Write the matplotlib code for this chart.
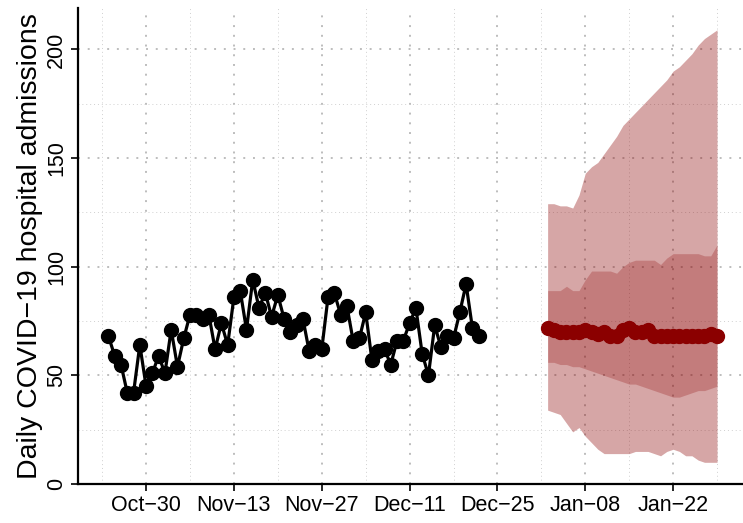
import matplotlib
matplotlib.use("Agg")
import matplotlib.pyplot as plt
import matplotlib.dates as mdates
import numpy as np
import pandas as pd

# observed daily admissions, Oct 24 - Dec 22
obs_dates = pd.date_range("2021-10-24", "2021-12-22", freq="D")
obs_vals = [68, 59, 55, 42, 42, 64, 45, 51, 59, 51,
            71, 54, 67, 78, 78, 76, 78, 62, 74, 64,
            86, 89, 71, 94, 81, 88, 77, 87, 76, 70,
            73, 76, 61, 64, 62, 86, 88, 78, 82, 66,
            67, 79, 57, 61, 62, 55, 66, 66, 74, 81,
            60, 50, 73, 63, 68, 67, 79, 92, 72, 68]

# forecast, Jan 02 - Jan 29
fc_dates = pd.date_range("2022-01-02", "2022-01-29", freq="D")
fc_median = [72, 71, 70, 70, 70, 70, 71, 70, 69, 70,
             68, 68, 71, 72, 70, 70, 71, 68, 68, 68,
             68, 68, 68, 68, 68, 68, 69, 68]
fc_lo50 = [56, 56, 55, 55, 54, 54, 53, 52, 51, 50,
           49, 48, 47, 46, 46, 45, 44, 43, 42, 41,
           40, 40, 41, 42, 43, 43, 44, 45]
fc_hi50 = [89, 89, 89, 91, 89, 89, 94, 98, 98, 98,
           98, 97, 100, 102, 103, 103, 103, 103, 101, 104,
           106, 106, 106, 106, 106, 105, 105, 110]
fc_lo90 = [34, 33, 32, 28, 24, 26, 22, 19, 16, 14,
           14, 14, 14, 14, 15, 15, 15, 14, 13, 15,
           16, 15, 13, 13, 11, 10, 10, 10]
fc_hi90 = [129, 129, 128, 128, 127, 133, 143, 146, 148, 152,
           156, 160, 165, 168, 171, 174, 177, 180, 183, 186,
           190, 192, 195, 198, 202, 205, 207, 209]

plt.rcParams['font.family'] = ['Liberation Sans', 'DejaVu Sans']

fig = plt.figure(figsize=(7.43, 5.23), dpi=100)
ax = fig.add_axes([0.105, 0.0745, 0.901, 0.91])

# grid: major + minor dotted
maj_x = pd.date_range("2021-10-30", "2022-01-22", freq="14D")
min_x = pd.date_range("2021-10-23", "2022-01-29", freq="14D")
for d in maj_x:
    ax.axvline(d, color="#bdbdbd", lw=1.4, ls=(0, (1, 4)), zorder=0)
for d in min_x:
    ax.axvline(d, color="#d0d0d0", lw=0.7, ls=(0, (1, 3)), zorder=0)
for y in [50, 100, 150, 200]:
    ax.axhline(y, color="#bdbdbd", lw=1.4, ls=(0, (1, 4)), zorder=0)
for y in [25, 75, 125, 175]:
    ax.axhline(y, color="#d0d0d0", lw=0.7, ls=(0, (1, 3)), zorder=0)

ax.fill_between(fc_dates, fc_lo90, fc_hi90, color="darkred", alpha=0.35, lw=0, zorder=1)
ax.fill_between(fc_dates, fc_lo50, fc_hi50, color="darkred", alpha=0.25, lw=0, zorder=2)

ax.plot(obs_dates, obs_vals, color="black", lw=2.3, marker="o", ms=10, zorder=3)
ax.plot(fc_dates, fc_median, color="darkred", lw=2.3, marker="o", ms=10, zorder=3)

xmin = pd.Timestamp("2021-10-24") - pd.Timedelta(days=4.85)
xmax = pd.Timestamp("2022-01-29") + pd.Timedelta(days=4.85)
ax.set_xlim(xmin, xmax)
ax.set_ylim(0, 219)

ax.set_xticks(maj_x)
ax.xaxis.set_major_formatter(plt.FuncFormatter(
    lambda v, p: mdates.num2date(v).strftime("%b-%d").replace("-", "\u2212")))
ax.set_yticks([0, 50, 100, 150, 200])
for lab in ax.get_yticklabels():
    lab.set_rotation(90)
    lab.set_va("center")

ax.tick_params(axis="both", labelsize=15.5, length=5, width=1.2, colors="black", pad=3)
ax.tick_params(axis="x", pad=3)

for s in ["top", "right"]:
    ax.spines[s].set_visible(False)
for s in ["left", "bottom"]:
    ax.spines[s].set_linewidth(1.6)

ax.set_ylabel("Daily COVID\u221219 hospital admissions", fontsize=20.5, labelpad=2)

fig.savefig("out.png", dpi=100)
